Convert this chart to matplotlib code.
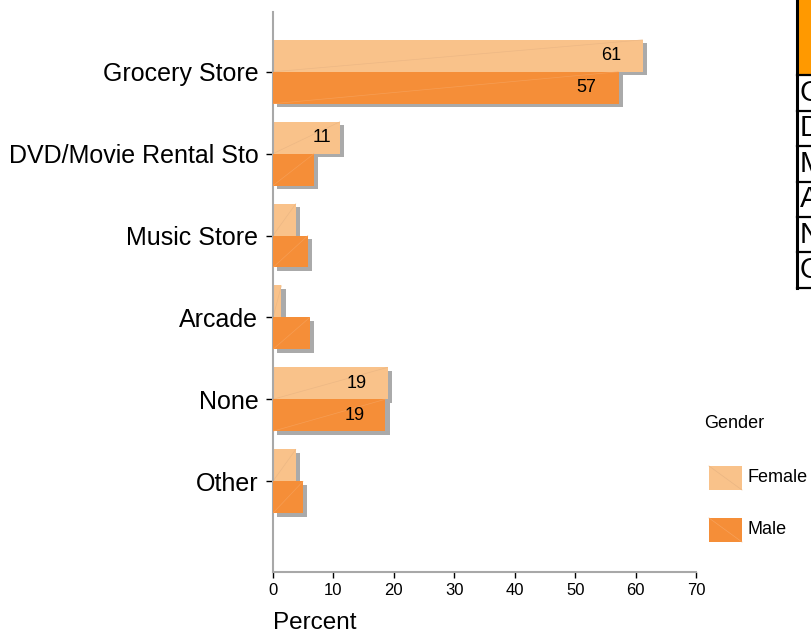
import matplotlib
matplotlib.use("Agg")
import matplotlib.pyplot as plt
import matplotlib.patheffects as pe
from matplotlib.patches import Rectangle
from matplotlib.lines import Line2D

plt.rcParams["font.family"] = ["Liberation Sans", "DejaVu Sans"]

# ---- data ----
categories = ["Grocery Store", "DVD/Movie Rental Sto", "Music Store",
              "Arcade", "None", "Other"]
table_rows = ["Grocery Store", "DVD/Movie Rental Store", "Music Store",
              "Arcade", "None", "Other"]
female = [61.2, 11.1, 3.8, 1.4, 19.0, 3.8]
male = [57.2, 6.8, 5.8, 6.1, 18.6, 5.0]
x_ticks = [0, 10, 20, 30, 40, 50, 60, 70]

FEMALE_C = "#F9C28A"
MALE_C = "#F58E38"
SPINE_C = "#A8A8A8"

W, H = 812, 633
fig = plt.figure(figsize=(W / 100, H / 100), dpi=100)

def fx(px):
    return px / W

def fy(py):
    return 1 - py / H

ax = fig.add_axes([fx(273), fy(572), fx(696) - fx(273), fy(12) - fy(572)])

ypos = list(range(len(categories)))
h = 0.39
shadow = [pe.SimplePatchShadow(offset=(3, -2.5), shadow_rgbFace="#AAAAAA", alpha=1.0),
          pe.Normal()]

fbars = ax.barh([y - h / 2 for y in ypos], female, height=h, color=FEMALE_C,
                zorder=2)
mbars = ax.barh([y + h / 2 for y in ypos], male, height=h, color=MALE_C,
                zorder=3)

for bars, z, lc in ((fbars, 2, "#E9B583"), (mbars, 3, "#F6A25C")):
    for b in bars:
        b.set_path_effects(shadow)
        x0, y0 = b.get_x(), b.get_y()
        w_, h_ = b.get_width(), b.get_height()
        # faint diagonal across the bar face
        ax.plot([x0, x0 + w_], [y0 + h_, y0], color=lc, lw=0.5, alpha=0.8,
                zorder=z + 0.1, solid_capstyle="butt")

# value labels for the larger bars
for vals, offs in ((female, -h / 2), (male, h / 2)):
    for y, v in zip(ypos, vals):
        if v >= 10:
            ax.text(v - min(5.3, v * 0.27), y + offs, f"{v:.0f}",
                    ha="center", va="center", fontsize=13, color="black",
                    zorder=5)

ax.set_xlim(0, 70)
ax.set_ylim(6.11, -0.73)
ax.set_yticks(ypos)
ax.set_yticklabels(categories, fontsize=18)
ax.set_xticks(x_ticks)
ax.set_xticklabels([str(t) for t in x_ticks], fontsize=12)
ax.tick_params(axis="y", length=5, width=1, color="black", pad=5.5)
ax.tick_params(axis="x", length=4, width=1, color="black", pad=4)

for s in ("top", "right"):
    ax.spines[s].set_visible(False)
for s in ("left", "bottom"):
    ax.spines[s].set_color(SPINE_C)
    ax.spines[s].set_linewidth(1.5)

fig.text(fx(273), fy(623), "Percent", ha="left", va="center", fontsize=17.5)

# ---- legend ----
fig.text(fx(704), fy(423), "Gender", ha="left", va="center", fontsize=13)
for (top, label, col, lc) in ((466, "Female", FEMALE_C, "#E9B583"),
                              (518, "Male", MALE_C, "#F6A25C")):
    fig.add_artist(Rectangle((fx(709), fy(top + 24)), fx(33), 24 / H,
                             transform=fig.transFigure, facecolor=col,
                             edgecolor="none"))
    fig.add_artist(Line2D([fx(709), fx(742)], [fy(top), fy(top + 24)],
                          transform=fig.transFigure, color=lc, lw=0.5))
    fig.text(fx(748), fy(top + 12), label, ha="left", va="center", fontsize=13)

# ---- side table ----
tx0 = 797
header_h = 75
row_h = (288 - header_h) / len(table_rows)
fig.add_artist(Rectangle((fx(tx0), fy(header_h)), fx(200), header_h / H,
                         transform=fig.transFigure, facecolor="#FF9900",
                         edgecolor="none"))
fig.add_artist(Line2D([fx(tx0), fx(tx0)], [fy(0), fy(288)],
                      transform=fig.transFigure, color="black", lw=2.2))
for i, name in enumerate(table_rows):
    top = header_h + i * row_h
    fig.add_artist(Line2D([fx(tx0), 1.0], [fy(top), fy(top)],
                          transform=fig.transFigure, color="black", lw=1.6))
    fig.text(fx(tx0 + 3), fy(top + row_h / 2), name, ha="left", va="center",
             fontsize=21, color="black")
fig.add_artist(Line2D([fx(tx0), 1.0], [fy(288), fy(288)],
                      transform=fig.transFigure, color="black", lw=1.6))

fig.savefig("out.png", dpi=100)
